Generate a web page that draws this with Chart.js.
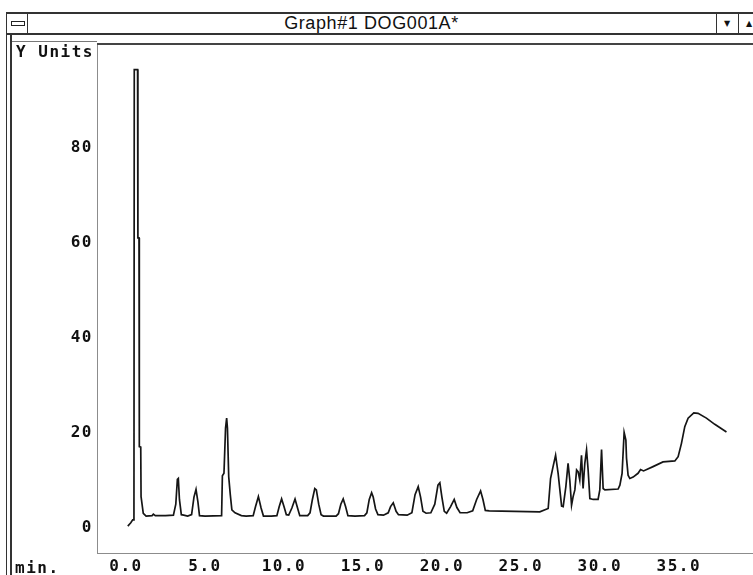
<!DOCTYPE html>
<html>
<head>
<meta charset="utf-8">
<title>Graph#1 DOG001A*</title>
<script src="https://cdn.jsdelivr.net/npm/chart.js@4.4.0/dist/chart.umd.min.js"></script>
<style>
body { margin:0; width:753px; height:575px; overflow:hidden; position:relative; background:#fff; }
.ln { position:absolute; background:#333; }
.mono { position:absolute; font-family:"DejaVu Sans Mono",monospace; font-weight:bold; font-size:16px; line-height:16px; letter-spacing:1.5px; color:#111; white-space:nowrap; }
#title { position:absolute; left:27px; width:689px; top:14px; height:19px; line-height:19px; text-align:center; font-family:"Liberation Sans",Arial,sans-serif; font-size:18px; letter-spacing:0.6px; color:#111; }
.arrow { position:absolute; top:14px; height:19px; line-height:19px; width:20px; text-align:center; font-family:"DejaVu Sans",sans-serif; font-size:8px; color:#111; }
#graph { position:absolute; left:0; top:0; }
</style>
</head>
<body>
<!-- window frame -->
<div class="ln" style="left:6px;top:12px;width:1px;height:563px"></div>
<div class="ln" style="left:10px;top:34px;width:2px;height:541px"></div>
<div class="ln" style="left:6px;top:12px;width:747px;height:2px"></div>
<div class="ln" style="left:6px;top:33px;width:747px;height:2px"></div>
<div class="ln" style="left:27px;top:12px;width:1px;height:22px"></div>
<div class="ln" style="left:716px;top:12px;width:1px;height:22px"></div>
<div class="ln" style="left:738px;top:12px;width:1px;height:22px"></div>
<div style="position:absolute;left:11px;top:21px;width:12px;height:3px;border:1px solid #222;background:#fff"></div>
<div id="title">Graph#1 DOG001A*</div>
<div class="arrow" style="left:717px">&#9660;</div>
<div class="arrow" style="left:739px">&#9650;</div>
<div class="ln" style="left:12px;top:41px;width:85px;height:1px;background:#777"></div>
<div class="ln" style="left:97px;top:43px;width:656px;height:2px;background:#444"></div>
<canvas id="graph" width="753" height="575"></canvas>
<div class="mono" style="left:16px;top:44px">Y Units</div>
<div class="mono" style="left:15px;top:560px">min.</div>
<script>
// retention time (min) and detector signal
var timeMin = [0.11, 0.30, 0.42, 0.50, 0.52, 0.73, 0.75, 0.82, 0.84, 0.93, 0.95, 1.09, 1.27, 1.65, 1.73, 1.85, 2.5, 3.0,
	3.15, 3.25, 3.31, 3.38, 3.5, 3.65, 3.9, 4.15, 4.3, 4.43, 4.55, 4.65, 5.0, 6.05, 6.1, 6.2, 6.3, 6.37, 6.42, 6.5, 6.6,
	6.7, 6.9, 7.3, 7.6, 8.05, 8.2, 8.38, 8.55, 8.7, 9.2, 9.55, 9.7, 9.85, 10.0, 10.15, 10.3, 10.5, 10.7, 10.85, 11.0,
	11.5, 11.65, 11.8, 11.95, 12.05, 12.2, 12.35, 12.5, 13.3, 13.45, 13.6, 13.75, 13.9, 14.05, 14.5, 15.1, 15.25, 15.4,
	15.55, 15.65, 15.8, 15.95, 16.3, 16.6, 16.75, 16.92, 17.1, 17.25, 17.8, 18.1, 18.3, 18.5, 18.65, 18.8, 19.0, 19.3,
	19.55, 19.75, 19.87, 20.0, 20.15, 20.3, 20.55, 20.78, 20.95, 21.15, 21.6, 21.95, 22.2, 22.45, 22.6, 22.75, 23.0,
	26.2, 26.73, 26.88, 27.04, 27.2, 27.36, 27.47, 27.58, 27.68, 27.85, 27.99, 28.1, 28.21, 28.31, 28.42, 28.53, 28.63,
	28.73, 28.84, 28.94, 29.05, 29.16, 29.26, 29.37, 29.58, 29.89, 30.0, 30.11, 30.21, 30.32, 31.16, 31.27, 31.41,
	31.54, 31.65, 31.69, 31.79, 31.9, 32.11, 32.42, 32.58, 32.77, 33.37, 34.0, 34.75, 34.96, 35.17, 35.38, 35.59,
	35.95, 36.22, 36.75, 37.28, 38.02];
var signal = [0.4, 1.1, 1.7, 1.7, 96.4, 96.4, 61, 61, 17.1, 17, 6.6, 3.1, 2.5, 2.6, 2.9, 2.6, 2.6, 2.7,
	5.0, 10.2, 10.4, 6.0, 2.8, 2.7, 2.5, 2.8, 6.5, 8.1, 5.5, 2.6, 2.5, 2.6, 11.0, 11.5, 21.0, 23.1, 21.0, 10.8, 7.0,
	3.8, 3.2, 2.6, 2.5, 2.6, 4.5, 6.6, 4.2, 2.5, 2.5, 2.6, 4.5, 6.1, 4.5, 2.8, 2.7, 4.2, 6.1, 4.3, 2.6,
	2.6, 3.2, 6.0, 8.3, 8.0, 5.0, 2.8, 2.5, 2.5, 3.0, 5.0, 6.1, 4.5, 2.6, 2.5, 2.6, 3.2, 6.0,
	7.4, 6.5, 4.0, 2.8, 2.7, 3.2, 4.5, 5.3, 3.5, 2.8, 2.7, 3.2, 7.0, 8.7, 6.5, 3.5, 3.1, 3.2,
	5.0, 9.0, 9.5, 6.5, 3.5, 3.1, 4.5, 6.0, 4.3, 3.2, 3.2, 3.6, 6.0, 7.8, 6.0, 3.7, 3.6,
	3.4, 4.1, 10.4, 12.9, 15.3, 11.5, 8.0, 4.6, 4.5, 8.7, 13.6, 10.0, 4.8, 6.6, 8.0, 12.2, 11.8,
	10.1, 15.3, 8.3, 13.6, 16.4, 12.2, 6.2, 6.0, 6.0, 8.0, 16.5, 8.3, 8.0, 8.2, 9.0, 11.5,
	20.1, 18.5, 14.7, 11.1, 10.4, 10.7, 11.5, 12.3, 12.0, 12.9, 13.9, 14.1, 15.0, 17.8, 21.3, 23.1,
	24.2, 24.1, 23.1, 21.8, 20.2];
var xTicks = [0, 5, 10, 15, 20, 25, 30, 35];
var yTicks = [0, 20, 40, 60, 80];

window.onload = function () {
	var points = [];
	for (var i = 0; i < timeMin.length; i++) {
		points.push({x: timeMin[i], y: signal[i]});
	}
	var tickFont = {family: '"DejaVu Sans Mono", monospace', size: 16, weight: 'bold'};
	var ctx = document.getElementById('graph').getContext('2d');
	new Chart(ctx, {
		type: 'line',
		data: {
			datasets: [{
				data: points,
				borderColor: '#151515',
				borderWidth: 1.7,
				pointRadius: 0,
				tension: 0,
				fill: false
			}]
		},
		options: {
			responsive: false,
			animation: false,
			layout: {padding: {top: 45, left: 0, right: 0, bottom: 0}},
			plugins: {legend: {display: false}, tooltip: {enabled: false}},
			scales: {
				x: {
					type: 'linear', min: -1.84, max: 39.7,
					grid: {display: false, drawTicks: false},
					border: {color: '#8c8c8c', width: 1},
					afterBuildTicks: function (s) { s.ticks = xTicks.map(function (v) { return {value: v}; }); },
					afterFit: function (s) { s.height = 22; },
					ticks: {color: '#111', font: tickFont, padding: 4, maxRotation: 0, autoSkip: false,
						callback: function (v) { return Number(v).toFixed(1); }}
				},
				y: {
					type: 'linear', min: -5.26, max: 101.56,
					grid: {display: false, drawTicks: false},
					border: {color: '#8c8c8c', width: 1},
					afterBuildTicks: function (s) { s.ticks = yTicks.map(function (v) { return {value: v}; }); },
					afterFit: function (s) { s.width = 97; },
					ticks: {color: '#111', font: tickFont, padding: 4,
						callback: function (v) { return String(v); }}
				}
			}
		},
		plugins: [{
			id: 'spacing',
			beforeDraw: function (c) { c.ctx.letterSpacing = '1.5px'; }
		}]
	});
};
</script>
</body>
</html>
